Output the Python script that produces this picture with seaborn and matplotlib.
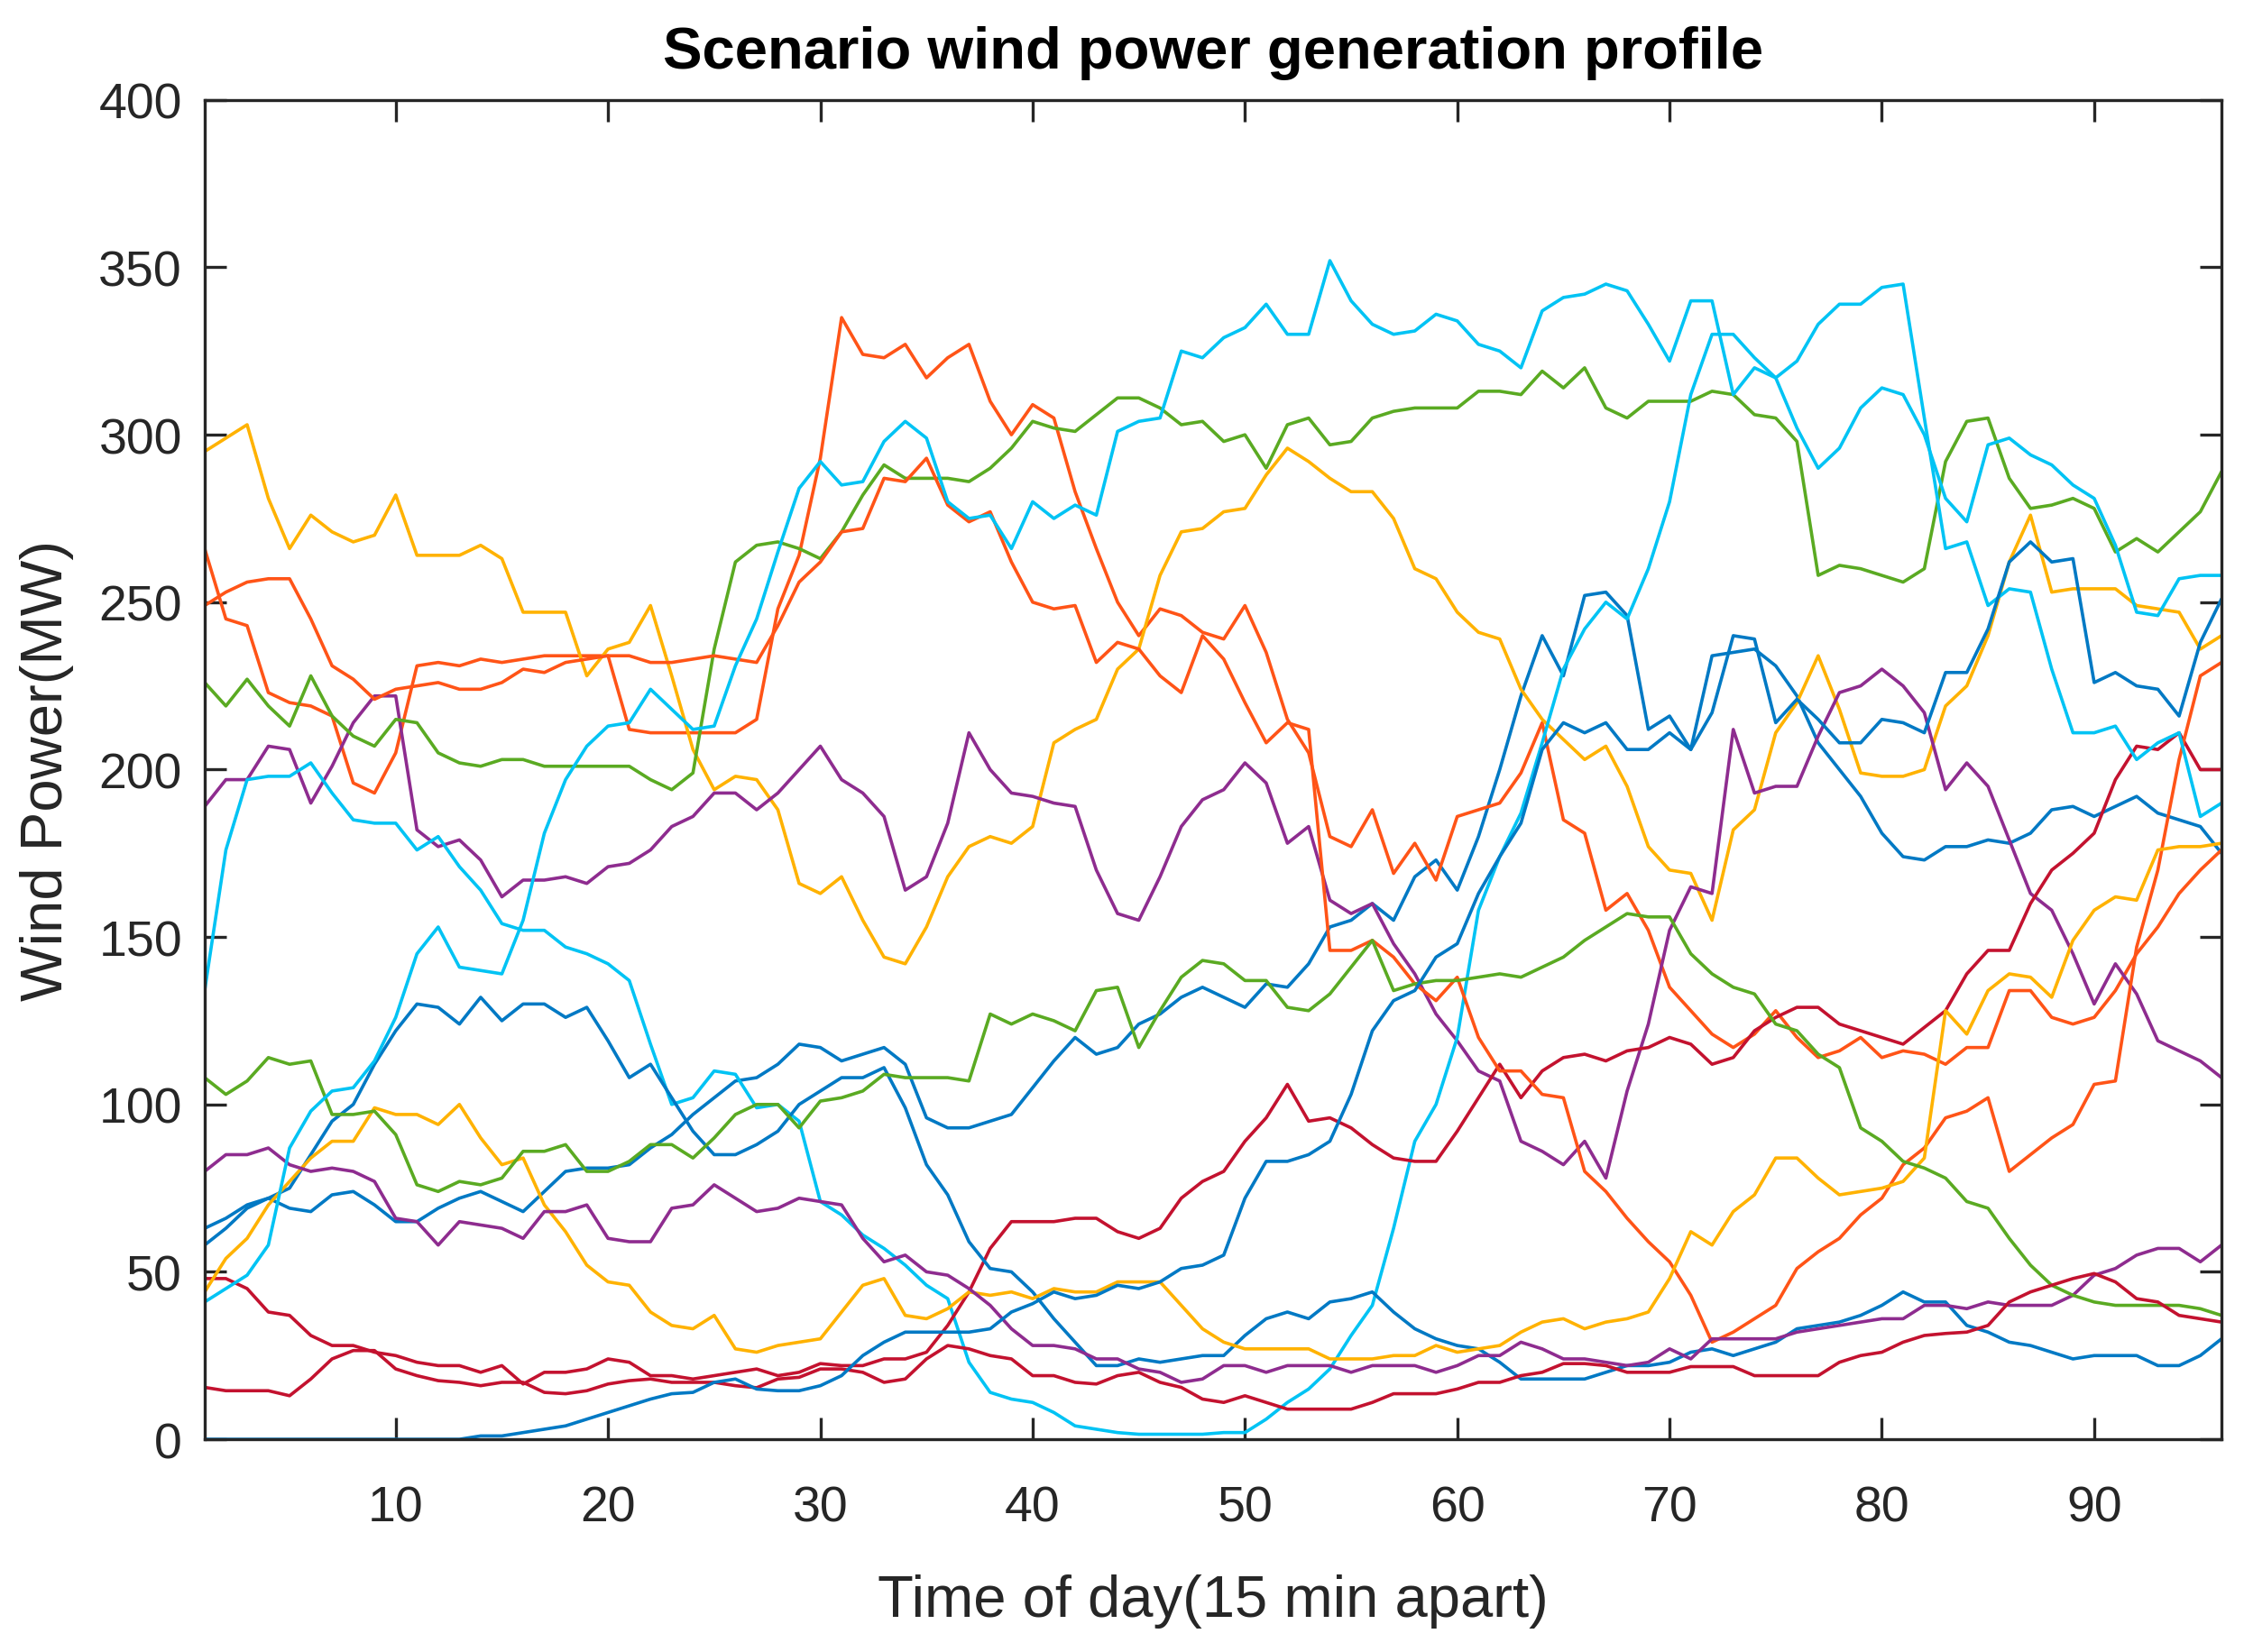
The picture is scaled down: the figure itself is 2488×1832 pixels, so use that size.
import pandas as pd
import matplotlib
matplotlib.use('Agg')
import matplotlib.pyplot as plt
import seaborn as sns

# 时间步（每15分钟一个点）
time_step = list(range(1, 97))

# 各场景风电出力 (MW)
blue_1 = [63, 66, 70, 72, 69, 68, 73, 74, 70, 65, 65, 69,
          72, 74, 71, 68, 74, 80, 81, 81, 82, 87, 91, 97,
          102, 107, 108, 112, 118, 117, 113, 115, 117, 112, 96, 93,
          93, 95, 97, 105, 113, 120, 115, 117, 124, 127, 132, 135,
          132, 129, 136, 135, 142, 153, 155, 160, 155, 168, 173, 164,
          180, 200, 222, 240, 228, 252, 253, 246, 212, 216, 206, 234,
          235, 236, 231, 222, 208, 200, 192, 181, 174, 173, 177, 177,
          179, 178, 181, 188, 189, 186, 189, 192, 187, 185, 183, 175]
orange_1 = [266, 245, 243, 223, 220, 219, 216, 196, 193, 205, 231, 232,
            231, 233, 232, 233, 234, 234, 234, 234, 212, 211, 211, 211,
            211, 211, 215, 248, 264, 293, 335, 324, 323, 327, 317, 323,
            327, 310, 300, 309, 305, 283, 266, 250, 240, 248, 246, 241,
            239, 249, 235, 215, 205, 180, 177, 188, 169, 178, 167, 186,
            188, 190, 199, 214, 185, 181, 158, 163, 152, 135, 128, 121,
            117, 121, 128, 120, 114, 116, 120, 114, 116, 115, 112, 117,
            117, 134, 134, 126, 124, 126, 134, 145, 153, 163, 170, 176]
yellow_1 = [295, 299, 303, 281, 266, 276, 271, 268, 270, 282, 264, 264,
            264, 267, 263, 247, 247, 247, 228, 236, 238, 249, 228, 206,
            194, 198, 197, 188, 166, 163, 168, 155, 144, 142, 153, 168,
            177, 180, 178, 183, 208, 212, 215, 230, 236, 258, 271, 272,
            277, 278, 288, 296, 292, 287, 283, 283, 275, 260, 257, 247,
            241, 239, 224, 215, 209, 203, 207, 195, 177, 170, 169, 155,
            182, 188, 211, 220, 234, 218, 199, 198, 198, 200, 219, 225,
            240, 262, 276, 253, 254, 254, 254, 249, 248, 247, 236, 240]
purple_1 = [189, 197, 197, 207, 206, 190, 201, 214, 222, 222, 182, 177,
            179, 173, 162, 167, 167, 168, 166, 171, 172, 176, 183, 186,
            193, 193, 188, 193, 200, 207, 197, 193, 186, 164, 168, 184,
            211, 200, 193, 192, 190, 189, 170, 157, 155, 168, 183, 191,
            194, 202, 196, 178, 183, 161, 157, 160, 148, 139, 127, 119,
            110, 107, 89, 86, 82, 89, 78, 104, 124, 152, 165, 163,
            212, 193, 195, 195, 210, 223, 225, 230, 225, 217, 194, 202,
            195, 179, 163, 158, 145, 130, 142, 133, 119, 116, 113, 108]
green_1 = [226, 219, 227, 219, 213, 228, 216, 210, 207, 215, 214, 205,
           202, 201, 203, 203, 201, 201, 201, 201, 201, 197, 194, 199,
           236, 262, 267, 268, 266, 263, 271, 282, 291, 287, 287, 287,
           286, 290, 296, 304, 302, 301, 306, 311, 311, 308, 303, 304,
           298, 300, 290, 303, 305, 297, 298, 305, 307, 308, 308, 308,
           313, 313, 312, 319, 314, 320, 308, 305, 310, 310, 310, 313,
           312, 306, 305, 298, 258, 261, 260, 258, 256, 260, 292, 304,
           305, 287, 278, 279, 281, 278, 265, 269, 265, 271, 277, 289]
cyan_1 = [134, 176, 197, 198, 198, 202, 193, 185, 184, 184, 176, 180,
          171, 164, 154, 152, 152, 147, 145, 142, 137, 118, 100, 102,
          110, 109, 99, 100, 95, 71, 67, 61, 57, 52, 46, 42,
          23, 14, 12, 11, 8, 4, 3, 2, 1.5, 1.5, 1.5, 1.5,
          2, 2, 6, 11, 15, 21, 31, 40, 63, 89, 100, 120,
          158, 174, 187, 208, 230, 242, 250, 245, 260, 280, 312, 330,
          330, 323, 317, 302, 290, 296, 308, 314, 312, 300, 281, 274,
          297, 299, 294, 291, 285, 281, 267, 247, 246, 257, 258, 258]
darkred_1 = [48, 48, 45, 38, 37, 31, 28, 28, 26, 25, 23, 22,
             22, 20, 22, 16.5, 20, 20, 21, 24, 23, 19, 19, 18,
             19, 20, 21, 19, 20, 22.6, 22, 22, 24, 24, 26, 34,
             44, 57, 65, 65, 65, 66, 66, 62, 60, 63, 72, 77,
             80, 89, 96, 106, 95, 96, 93, 88, 84, 83, 83, 92,
             102, 112, 102, 110, 114, 115, 113, 116, 117, 120, 118, 112,
             114, 122, 126, 129, 129, 124, 122, 120, 118, 123, 128, 139,
             146, 146, 160, 170, 175, 181, 197, 207, 206, 211, 200, 200]
blue_2 = [58, 63, 69, 72, 75, 85, 95, 100, 112, 122, 130, 129,
          124, 132, 125, 130, 130, 126, 129, 119, 108, 112, 102, 92,
          85, 85, 88, 92, 100, 104, 108, 108, 111, 99, 82, 73,
          59, 51, 50, 44, 36, 29, 22, 22, 24, 23, 24, 25,
          25, 31, 36, 38, 36, 41, 42, 44, 38, 33, 30, 28,
          27, 23, 18, 18, 18, 18, 20, 22, 22, 23, 26, 27,
          25, 27, 29, 33, 34, 35, 37, 40, 44, 41, 41, 34,
          32, 29, 28, 26, 24, 25, 25, 25, 22, 22, 25, 30]
orange_2 = [249, 253, 256, 257, 257, 245, 231, 227, 221, 224, 225, 226,
            224, 224, 226, 230, 229, 232, 233, 234, 234, 232, 232, 233,
            234, 233, 232, 243, 256, 262, 271, 272, 287, 286, 293, 279,
            274, 277, 262, 250, 248, 249, 232, 238, 236, 228, 223, 240,
            233, 220, 208, 214, 212, 146, 146, 149, 144, 136, 131, 138,
            120, 110, 110, 103, 102, 80, 74, 66, 59, 53, 43, 29,
            32, 36, 40, 51, 56, 60, 67, 72, 82, 87, 96, 98,
            102, 80, 85, 90, 94, 106, 107, 147, 170, 203, 228, 232]
yellow_2 = [44, 54, 60, 70, 77, 84, 89, 89, 99, 97, 97, 94,
            100, 90, 82, 84, 70, 62, 52, 47, 46, 38, 34, 33,
            37, 27, 26, 28, 29, 30, 38, 46, 48, 37, 36, 39,
            44, 43, 44, 42, 45, 44, 44, 47, 47, 47, 40, 33,
            29, 27, 27, 27, 27, 24, 24, 24, 25, 25, 28, 26,
            27, 28, 32, 35, 36, 33, 35, 36, 38, 48, 62, 58,
            68, 73, 84, 84, 78, 73, 74, 75, 77, 84, 128, 121,
            134, 139, 138, 132, 149, 158, 162, 161, 176, 177, 177, 178]
purple_2 = [80, 85, 85, 87, 82, 80, 81, 80, 77, 66, 65, 58,
            65, 64, 63, 60, 68, 68, 70, 60, 59, 59, 69, 70,
            76, 72, 68, 69, 72, 71, 70, 60, 53, 55, 50, 49,
            45, 40, 33, 28, 28, 27, 24, 24, 21, 20, 17, 18,
            22, 22, 20, 22, 22, 22, 20, 22, 22, 22, 20, 22,
            25, 25, 29, 27, 24, 24, 23, 22, 23, 27, 24, 30,
            30, 30, 30, 32, 33, 34, 35, 36, 36, 40, 40, 39,
            41, 40, 40, 40, 43, 49, 51, 55, 57, 57, 53, 58]
green_2 = [108, 103, 107, 114, 112, 113, 97, 97, 98, 91, 76, 74,
           77, 76, 78, 86, 86, 88, 80, 80, 83, 88, 88, 84,
           90, 97, 100, 100, 93, 101, 102, 104, 109, 108, 108, 108,
           107, 127, 124, 127, 125, 122, 134, 135, 117, 128, 138, 143,
           142, 137, 137, 129, 128, 133, 141, 149, 134, 136, 137, 137,
           138, 139, 138, 141, 144, 149, 153, 157, 156, 156, 145, 139,
           135, 133, 124, 122, 115, 111, 93, 89, 83, 81, 78, 71,
           69, 60, 52, 46, 43, 41, 40, 40, 40, 40, 39, 37]
cyan_2 = [41, 45, 49, 58, 87, 98, 104, 105, 113, 126, 145, 153,
          141, 140, 139, 155, 181, 197, 207, 213, 214, 224, 218, 212,
          213, 231, 245, 265, 284, 292, 285, 286, 298, 304, 299, 280,
          275, 276, 266, 280, 275, 279, 276, 301, 304, 305, 325, 323,
          329, 332, 339, 330, 330, 352, 340, 333, 330, 331, 336, 334,
          327, 325, 320, 337, 341, 342, 345, 343, 333, 322, 340, 340,
          312, 320, 317, 322, 333, 339, 339, 344, 345, 305, 266, 268,
          249, 254, 253, 230, 211, 211, 213, 203, 208, 211, 186, 190]
darkred_2 = [15.5, 14.5, 14.5, 14.5, 13, 18, 24, 26.5, 26.5, 21, 19, 17.5,
             17, 16, 17, 17, 14, 13.6, 14.5, 16.5, 17.5, 18, 17, 17,
             17, 16, 15.4, 18, 18.5, 21, 21, 20, 17, 18, 24, 28,
             27, 25, 24, 19, 19, 17, 16.5, 19, 20, 17, 15.5, 12,
             11, 13, 11, 9, 9, 9, 9, 11, 13.6, 13.6, 13.6, 15,
             17, 17, 19, 20, 22.6, 22.6, 22, 20, 20, 20, 21.7, 21.7,
             21.7, 19, 19, 19, 19, 23, 25, 26, 29, 31, 31.6, 32,
             34, 41, 44, 46, 48, 49.5, 47, 42, 41, 37, 36, 35]
blue_3 = [0, 0, 0, 0, 0, 0, 0, 0, 0, 0, 0, 0,
          0, 1, 1, 2, 3, 4, 6, 8, 10, 12, 13.6, 14,
          17, 18, 15, 14.5, 14.5, 16, 19, 25, 29, 32, 32, 32,
          32, 33, 38, 40.5, 44, 42, 43, 46, 45, 47, 51, 52,
          55, 72, 83, 83, 85, 89, 103, 122, 131, 134, 144, 148,
          163, 174, 184, 206, 214, 211, 214, 206, 206, 211, 206, 217,
          240, 239, 214, 221, 215, 208, 208, 215, 214, 211, 229, 229,
          242, 262, 268, 262, 263, 226, 229, 225, 224, 216, 238, 251]

scenarios = [blue_1, orange_1, yellow_1, purple_1, green_1, cyan_1, darkred_1,
             blue_2, orange_2, yellow_2, purple_2, green_2, cyan_2, darkred_2,
             blue_3]

# MATLAB 默认颜色顺序
line_colors = ['#0079C4', '#FF5417', '#FFB200', '#8E2C8F', '#5AAA22', '#00C3F4', '#C3122F']

# 转成长表
frames = []
for i, vals in enumerate(scenarios):
    frames.append(pd.DataFrame({'Time': time_step, 'Power': vals, 'Scenario': f'S{i + 1}'}))
df = pd.concat(frames, ignore_index=True)
names = [f'S{i + 1}' for i in range(len(scenarios))]
palette = [line_colors[i % 7] for i in range(len(scenarios))]

sns.set_theme(style='ticks')
plt.rcParams['font.family'] = ['Liberation Sans', 'DejaVu Sans']

fig = plt.figure(figsize=(12.44, 9.165), dpi=200)
ax = fig.add_axes([0.0912, 0.1287, 0.8988, 0.8103])

sns.lineplot(data=df, x='Time', y='Power', hue='Scenario', hue_order=names,
             palette=palette, linewidth=1.3, estimator=None, legend=False, ax=ax)

ax.set_xlim(1, 96)
ax.set_ylim(0, 400)
ax.set_xticks(range(10, 91, 10))
ax.set_yticks(range(0, 401, 50))

axis_color = '#262626'
for sp in ax.spines.values():
    sp.set_visible(True)
    sp.set_linewidth(1.2)
    sp.set_color(axis_color)
ax.tick_params(direction='in', length=8.5, width=1.2, top=True, right=True,
               labelsize=20, colors=axis_color)
ax.tick_params(axis='x', pad=18)
ax.tick_params(axis='y', pad=9)

ax.set_title('Scenario wind power generation profile', fontsize=23.5, fontweight='bold',
             color='black', pad=13)
ax.set_xlabel('Time of day(15 min apart)', fontsize=23.5, color=axis_color, labelpad=17)
ax.set_ylabel('Wind Power(MW)', fontsize=23.5, color=axis_color, labelpad=10)

fig.savefig('out.png', dpi=200, facecolor='white')
